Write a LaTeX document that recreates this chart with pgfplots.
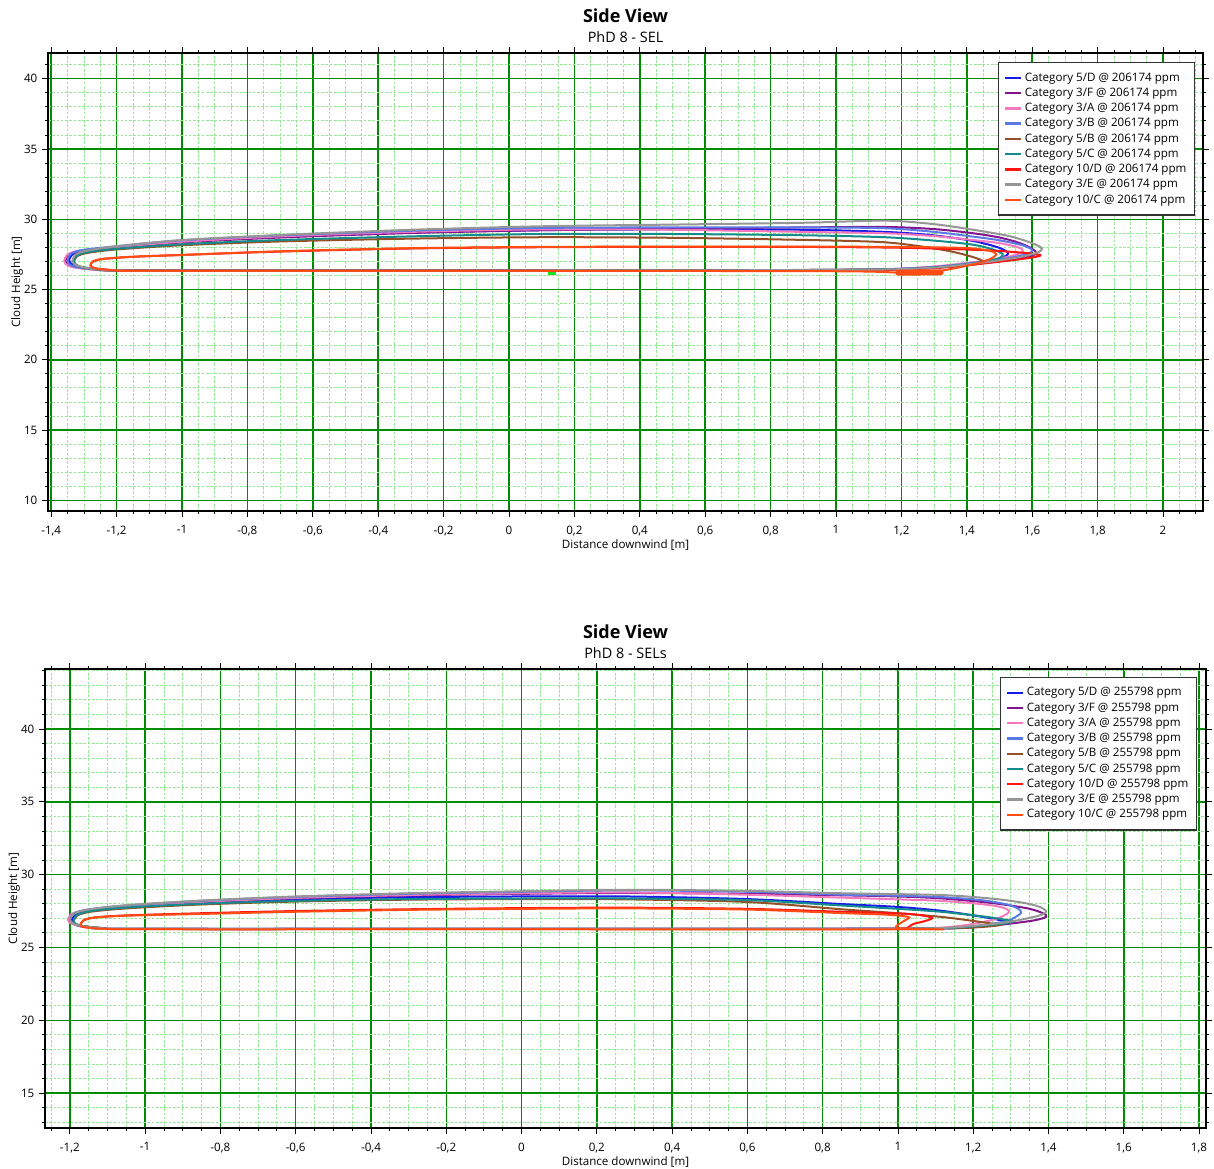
\documentclass[border=0pt]{standalone}
\usepackage{fontspec}
\setmainfont{Open Sans}
\setsansfont{Open Sans}
\usepackage{pgfplots}
\pgfplotsset{compat=1.18}

\definecolor{gmaj}{RGB}{0,140,0}
\definecolor{gmin}{RGB}{150,232,150}
\definecolor{c5D}{RGB}{25,25,235}
\definecolor{c3F}{RGB}{130,20,140}
\definecolor{c3A}{RGB}{245,120,190}
\definecolor{c3B}{RGB}{90,120,230}
\definecolor{c5B}{RGB}{150,80,40}
\definecolor{c5C}{RGB}{20,140,140}
\definecolor{c10D}{RGB}{255,20,20}
\definecolor{c3E}{RGB}{150,150,150}
\definecolor{c10C}{RGB}{255,75,20}
\definecolor{srcgreen}{RGB}{30,220,30}

\newcommand{\smallfont}{\fontsize{8.7}{10.4}\selectfont}

\pgfplotsset{
  sideview/.style={
    scale only axis,
    axis line style={black, line width=0.8pt},
    tick align=outside,
    major tick length=4.5pt,
    minor tick length=2.2pt,
    tick style={black, line width=0.6pt},
    grid=both,
    major grid style={draw=gmaj, line width=1.1pt, solid},
    minor grid style={draw=gmin, line width=0.6pt, dash pattern=on 2pt off 1.2pt},
    ticklabel style={font=\smallfont},
    xticklabel style={yshift=-3pt},
    /pgf/number format/assume math mode=true,
    /pgf/number format/use comma,
    label style={font=\smallfont},
    title style={at={(0.5,1)}, anchor=south, yshift=1.2pt, align=center, inner sep=0pt},
    legend cell align=left,
    legend style={font=\smallfont, draw=black!80, line width=0.9pt, fill=white,
      anchor=north east, row sep=-0.37pt, inner xsep=4pt, inner ysep=5.5pt},
    legend image code/.code={\draw[##1, line width=1.8pt] (0pt,0pt) -- (11.8pt,0pt);},
    every axis plot/.append style={smooth, tension=0.5, line width=1.5pt, mark=none},
  }
}

\begin{document}
\begin{tikzpicture}
\useasboundingbox (0,0) rectangle (910.5pt,-876.75pt);

% ---------- top: PhD 8 - SEL ----------
\begin{axis}[sideview,
  at={(36pt,-39.75pt)}, anchor=north west,
  width=866.25pt, height=343.5pt,
  xmin=-1.4098, xmax=2.1223, ymin=9.24, ymax=41.83,
  xtick={-1.4,-1.2,-1,-0.8,-0.6,-0.4,-0.2,0,0.2,0.4,0.6,0.8,1,1.2,1.4,1.6,1.8,2},
  minor xtick={-1.35,-1.3,-1.25,-1.15,-1.1,-1.05,-0.95,-0.9,-0.85,-0.75,-0.7,-0.65,-0.55,-0.5,-0.45,-0.35,-0.3,-0.25,-0.15,-0.1,-0.05,0.05,0.1,0.15,0.25,0.3,0.35,0.45,0.5,0.55,0.65,0.7,0.75,0.85,0.9,0.95,1.05,1.1,1.15,1.25,1.3,1.35,1.45,1.5,1.55,1.65,1.7,1.75,1.85,1.9,1.95,2.05,2.1},
  ytick={10,15,20,25,30,35,40},
  minor ytick={11,12,13,14,16,17,18,19,21,22,23,24,26,27,28,29,31,32,33,34,36,37,38,39,41},
  title={{\fontsize{13.5}{15}\selectfont\bfseries Side View}\\[3pt]{\fontsize{10.8}{12}\selectfont PhD 8 - SEL}},
  xlabel={Distance downwind [m]},
  ylabel={Cloud Height [m]},
  xlabel style={at={(axis description cs:0.5,-0.0742)}, anchor=center},
  ylabel style={at={(axis description cs:-0.0268,0.5)}, anchor=center},
  legend style={at={(axis description cs:0.9931,0.9803)}},
]
\addplot[c5D] coordinates {(-1.345,27.1) (-1.337,27.45) (-1.305,27.75) (-1.2,28.02) (-1.0,28.4) (-0.7,28.75) (-0.3,29.05) (0.1,29.22) (0.5,29.28) (0.9,29.25) (1.15,29.1) (1.3,28.85) (1.42,28.45) (1.495,28.0) (1.525,27.65) (1.52,27.4) (1.49,27.15) (1.42,26.88) (1.3,26.6) (1.15,26.44) (0.9,26.37) (0.0,26.35) (-0.9,26.35) (-1.17,26.36) (-1.26,26.44) (-1.315,26.62) (-1.34,26.85) (-1.345,27.1)};
\addlegendentry{Category 5/D @ 206174 ppm}
\addplot[c3F] coordinates {(-1.356,27.05) (-1.348,27.45) (-1.315,27.72) (-1.2,27.98) (-1.0,28.35) (-0.7,28.7) (-0.3,29.02) (0.1,29.22) (0.5,29.33) (0.9,29.42) (1.15,29.45) (1.3,29.3) (1.42,29.0) (1.5,28.7) (1.56,28.32) (1.6,27.9) (1.612,27.6) (1.595,27.38) (1.54,27.12) (1.42,26.8) (1.28,26.52) (1.1,26.4) (0.5,26.36) (-0.5,26.35) (-1.17,26.35) (-1.27,26.43) (-1.33,26.6) (-1.352,26.82) (-1.356,27.05)};
\addlegendentry{Category 3/F @ 206174 ppm}
\addplot[c3A] coordinates {(-1.36,27.05) (-1.352,27.45) (-1.318,27.75) (-1.2,28.02) (-1.0,28.4) (-0.7,28.78) (-0.3,29.1) (0.1,29.28) (0.5,29.25) (0.9,29.1) (1.15,29.0) (1.3,28.8) (1.42,28.52) (1.5,28.3) (1.55,28.05) (1.57,27.85) (1.565,27.6) (1.52,27.3) (1.42,26.95) (1.28,26.6) (1.1,26.42) (0.5,26.36) (-0.5,26.35) (-1.17,26.35) (-1.275,26.43) (-1.335,26.6) (-1.356,26.82) (-1.36,27.05)};
\addlegendentry{Category 3/A @ 206174 ppm}
\addplot[c3B] coordinates {(-1.35,27.1) (-1.342,27.5) (-1.308,27.8) (-1.2,28.08) (-1.0,28.5) (-0.7,28.85) (-0.3,29.18) (0.1,29.38) (0.5,29.42) (0.9,29.42) (1.15,29.36) (1.3,29.1) (1.42,28.76) (1.5,28.5) (1.57,28.15) (1.6,27.82) (1.587,27.55) (1.53,27.25) (1.42,26.9) (1.3,26.6) (1.1,26.42) (0.5,26.36) (-0.5,26.35) (-1.17,26.35) (-1.27,26.44) (-1.328,26.62) (-1.347,26.85) (-1.35,27.1)};
\addlegendentry{Category 3/B @ 206174 ppm}
\addplot[c5B] coordinates {(-1.33,27.0) (-1.322,27.35) (-1.29,27.6) (-1.2,27.85) (-1.0,28.15) (-0.7,28.42) (-0.3,28.62) (0.1,28.72) (0.5,28.68) (0.9,28.53) (1.135,28.38) (1.25,28.1) (1.35,27.72) (1.42,27.3) (1.45,27.0) (1.43,26.8) (1.32,26.56) (1.15,26.43) (0.5,26.36) (-0.5,26.35) (-1.16,26.35) (-1.25,26.42) (-1.305,26.58) (-1.327,26.8) (-1.33,27.0)};
\addlegendentry{Category 5/B @ 206174 ppm}
\addplot[c5C] coordinates {(-1.33,27.05) (-1.322,27.4) (-1.29,27.65) (-1.2,27.9) (-1.0,28.22) (-0.7,28.52) (-0.3,28.78) (0.1,28.95) (0.5,28.95) (0.9,28.86) (1.15,28.72) (1.3,28.48) (1.416,28.2) (1.48,27.85) (1.51,27.5) (1.49,27.15) (1.42,26.86) (1.3,26.58) (1.12,26.42) (0.5,26.36) (-0.5,26.35) (-1.16,26.35) (-1.25,26.43) (-1.307,26.6) (-1.327,26.82) (-1.33,27.05)};
\addlegendentry{Category 5/C @ 206174 ppm}
\addplot[c10D] coordinates {(-1.28,26.75) (-1.272,27.0) (-1.24,27.18) (-1.15,27.33) (-1.0,27.46) (-0.7,27.7) (-0.3,27.92) (0.1,28.01) (0.5,28.04) (0.9,28.03) (1.2,27.97) (1.45,27.8) (1.58,27.6) (1.625,27.45) (1.6,27.28) (1.5,26.98) (1.35,26.62) (1.2,26.42) (1.0,26.36) (0.0,26.34) (-1.1,26.34) (-1.2,26.37) (-1.255,26.47) (-1.276,26.6) (-1.28,26.75)};
\addlegendentry{Category 10/D @ 206174 ppm}
\addplot[c3E] coordinates {(-1.335,27.05) (-1.327,27.45) (-1.294,27.75) (-1.2,28.08) (-1.0,28.52) (-0.7,28.88) (-0.3,29.25) (0.1,29.5) (0.5,29.62) (0.9,29.75) (1.15,29.9) (1.3,29.65) (1.42,29.25) (1.52,28.85) (1.575,28.5) (1.615,28.15) (1.63,27.9) (1.615,27.62) (1.56,27.3) (1.45,26.92) (1.3,26.56) (1.1,26.41) (0.5,26.36) (-0.5,26.35) (-1.15,26.35) (-1.25,26.42) (-1.305,26.6) (-1.33,26.82) (-1.335,27.05)};
\addlegendentry{Category 3/E @ 206174 ppm}
\addplot[c10C] coordinates {(-1.28,26.75) (-1.272,27.0) (-1.24,27.18) (-1.15,27.33) (-1.0,27.46) (-0.7,27.72) (-0.3,27.94) (0.1,28.03) (0.5,28.05) (0.9,28.05) (1.2,28.03) (1.4,27.95) (1.47,27.75) (1.49,27.5) (1.47,27.15) (1.43,26.85) (1.36,26.5) (1.3,26.28) (1.2,26.2) (1.0,26.3) (0.0,26.33) (-1.1,26.33) (-1.2,26.36) (-1.255,26.46) (-1.276,26.6) (-1.28,26.75)};
\addlegendentry{Category 10/C @ 206174 ppm}
\addplot[c10C, forget plot, line width=4.5pt, line cap=round] coordinates {(1.19,26.2) (1.32,26.22)};
\addplot[srcgreen, forget plot, line width=2.3pt] coordinates {(0.119,26.15) (0.143,26.15)};
\end{axis}

% ---------- bottom: PhD 8 - SELs ----------
\begin{axis}[sideview,
  at={(33.75pt,-501.75pt)}, anchor=north west,
  width=870.75pt, height=344.25pt,
  xmin=-1.266, xmax=1.8185, ymin=12.6, ymax=44.12,
  xtick={-1.2,-1,-0.8,-0.6,-0.4,-0.2,0,0.2,0.4,0.6,0.8,1,1.2,1.4,1.6,1.8},
  minor xtick={-1.25,-1.15,-1.1,-1.05,-0.95,-0.9,-0.85,-0.75,-0.7,-0.65,-0.55,-0.5,-0.45,-0.35,-0.3,-0.25,-0.15,-0.1,-0.05,0.05,0.1,0.15,0.25,0.3,0.35,0.45,0.5,0.55,0.65,0.7,0.75,0.85,0.9,0.95,1.05,1.1,1.15,1.25,1.3,1.35,1.45,1.5,1.55,1.65,1.7,1.75},
  ytick={15,20,25,30,35,40},
  minor ytick={13,14,16,17,18,19,21,22,23,24,26,27,28,29,31,32,33,34,36,37,38,39,41,42,43,44},
  title={{\fontsize{13.5}{15}\selectfont\bfseries Side View}\\[3pt]{\fontsize{10.8}{12}\selectfont PhD 8 - SELs}},
  xlabel={Distance downwind [m]},
  ylabel={Cloud Height [m]},
  xlabel style={at={(axis description cs:0.5,-0.074)}, anchor=center},
  ylabel style={at={(axis description cs:-0.0267,0.5)}, anchor=center},
  legend style={at={(axis description cs:0.9922,0.9826)}},
]
\addplot[c5D] coordinates {(-1.195,26.85) (-1.186,27.22) (-1.15,27.5) (-1.05,27.78) (-0.85,28.05) (-0.6,28.3) (-0.3,28.45) (0.0,28.5) (0.28,28.5) (0.6,28.32) (0.85,27.98) (1.0,27.78) (1.114,27.52) (1.22,27.12) (1.27,26.88) (1.29,26.72) (1.26,26.55) (1.18,26.38) (1.05,26.3) (0.5,26.27) (-0.5,26.27) (-1.05,26.27) (-1.13,26.33) (-1.175,26.47) (-1.192,26.65) (-1.195,26.85)};
\addlegendentry{Category 5/D @ 255798 ppm}
\addplot[c3F] coordinates {(-1.202,26.88) (-1.193,27.28) (-1.155,27.56) (-1.05,27.82) (-0.85,28.12) (-0.6,28.38) (-0.3,28.57) (0.0,28.68) (0.28,28.74) (0.6,28.68) (0.85,28.58) (1.0,28.5) (1.114,28.37) (1.25,28.05) (1.345,27.68) (1.385,27.35) (1.394,27.11) (1.36,26.85) (1.265,26.54) (1.15,26.32) (0.9,26.27) (0.0,26.27) (-1.03,26.27) (-1.12,26.34) (-1.17,26.48) (-1.195,26.66) (-1.202,26.88)};
\addlegendentry{Category 3/F @ 255798 ppm}
\addplot[c3A] coordinates {(-1.205,26.88) (-1.196,27.28) (-1.158,27.56) (-1.05,27.83) (-0.85,28.13) (-0.6,28.4) (-0.3,28.6) (0.0,28.72) (0.28,28.78) (0.6,28.62) (0.85,28.42) (1.0,28.3) (1.114,28.2) (1.22,27.98) (1.274,27.77) (1.294,27.55) (1.293,27.38) (1.275,27.1) (1.24,26.82) (1.17,26.5) (1.08,26.32) (0.8,26.27) (0.0,26.27) (-1.03,26.27) (-1.12,26.34) (-1.172,26.48) (-1.198,26.66) (-1.205,26.88)};
\addlegendentry{Category 3/A @ 255798 ppm}
\addplot[c3B] coordinates {(-1.2,26.9) (-1.19,27.32) (-1.152,27.6) (-1.05,27.88) (-0.85,28.2) (-0.6,28.47) (-0.3,28.68) (0.0,28.82) (0.28,28.92) (0.6,28.82) (0.85,28.62) (1.0,28.55) (1.114,28.46) (1.22,28.25) (1.29,27.95) (1.32,27.65) (1.327,27.38) (1.31,27.05) (1.283,26.77) (1.2,26.45) (1.1,26.3) (0.8,26.27) (0.0,26.27) (-1.03,26.27) (-1.12,26.34) (-1.17,26.48) (-1.193,26.68) (-1.2,26.9)};
\addlegendentry{Category 3/B @ 255798 ppm}
\addplot[c5B] coordinates {(-1.19,26.8) (-1.181,27.18) (-1.145,27.45) (-1.05,27.68) (-0.85,27.95) (-0.6,28.15) (-0.3,28.28) (0.0,28.32) (0.28,28.3) (0.6,28.12) (0.85,27.62) (1.0,27.35) (1.114,27.1) (1.2,26.82) (1.255,26.62) (1.274,26.55) (1.23,26.42) (1.12,26.3) (0.8,26.27) (0.0,26.27) (-1.03,26.27) (-1.115,26.33) (-1.165,26.46) (-1.186,26.62) (-1.19,26.8)};
\addlegendentry{Category 5/B @ 255798 ppm}
\addplot[c5C] coordinates {(-1.19,26.82) (-1.181,27.22) (-1.145,27.5) (-1.05,27.74) (-0.85,28.0) (-0.6,28.2) (-0.3,28.32) (0.0,28.36) (0.28,28.36) (0.6,28.25) (0.85,27.88) (1.0,27.65) (1.114,27.45) (1.22,27.15) (1.28,26.92) (1.305,26.77) (1.27,26.6) (1.18,26.4) (1.08,26.3) (0.8,26.27) (0.0,26.27) (-1.03,26.27) (-1.115,26.33) (-1.165,26.47) (-1.186,26.64) (-1.19,26.82)};
\addlegendentry{Category 5/C @ 255798 ppm}
\addplot[c10D] coordinates {(-1.172,26.55) (-1.164,26.85) (-1.135,27.05) (-1.05,27.2) (-0.85,27.35) (-0.6,27.5) (-0.3,27.62) (0.0,27.7) (0.28,27.73) (0.6,27.65) (0.85,27.45) (0.95,27.38) (1.03,27.3) (1.075,27.15) (1.091,27.0) (1.07,26.8) (1.04,26.6) (1.028,26.4) (1.0,26.28) (0.8,26.26) (0.0,26.26) (-1.0,26.26) (-1.11,26.29) (-1.155,26.38) (-1.17,26.46) (-1.172,26.55)};
\addlegendentry{Category 10/D @ 255798 ppm}
\addplot[c3E] coordinates {(-1.2,26.88) (-1.19,27.3) (-1.152,27.6) (-1.05,27.9) (-0.85,28.22) (-0.6,28.5) (-0.3,28.72) (0.0,28.86) (0.28,28.96) (0.6,28.88) (0.85,28.72) (1.114,28.6) (1.25,28.35) (1.33,28.08) (1.375,27.8) (1.394,27.45) (1.37,27.15) (1.3,26.78) (1.22,26.52) (1.1,26.32) (0.9,26.28) (0.0,26.27) (-1.03,26.27) (-1.12,26.34) (-1.17,26.48) (-1.193,26.66) (-1.2,26.88)};
\addlegendentry{Category 3/E @ 255798 ppm}
\addplot[c10C] coordinates {(-1.172,26.55) (-1.164,26.85) (-1.135,27.05) (-1.05,27.18) (-0.85,27.3) (-0.6,27.45) (-0.3,27.58) (0.0,27.65) (0.28,27.68) (0.6,27.6) (0.85,27.36) (0.97,27.25) (1.015,27.15) (1.03,27.05) (1.015,26.8) (1.0,26.55) (0.995,26.38) (1.02,26.28) (1.12,26.24) (1.0,26.24) (0.0,26.25) (-1.0,26.25) (-1.11,26.28) (-1.155,26.37) (-1.17,26.46) (-1.172,26.55)};
\addlegendentry{Category 10/C @ 255798 ppm}
\end{axis}
\end{tikzpicture}
\end{document}
